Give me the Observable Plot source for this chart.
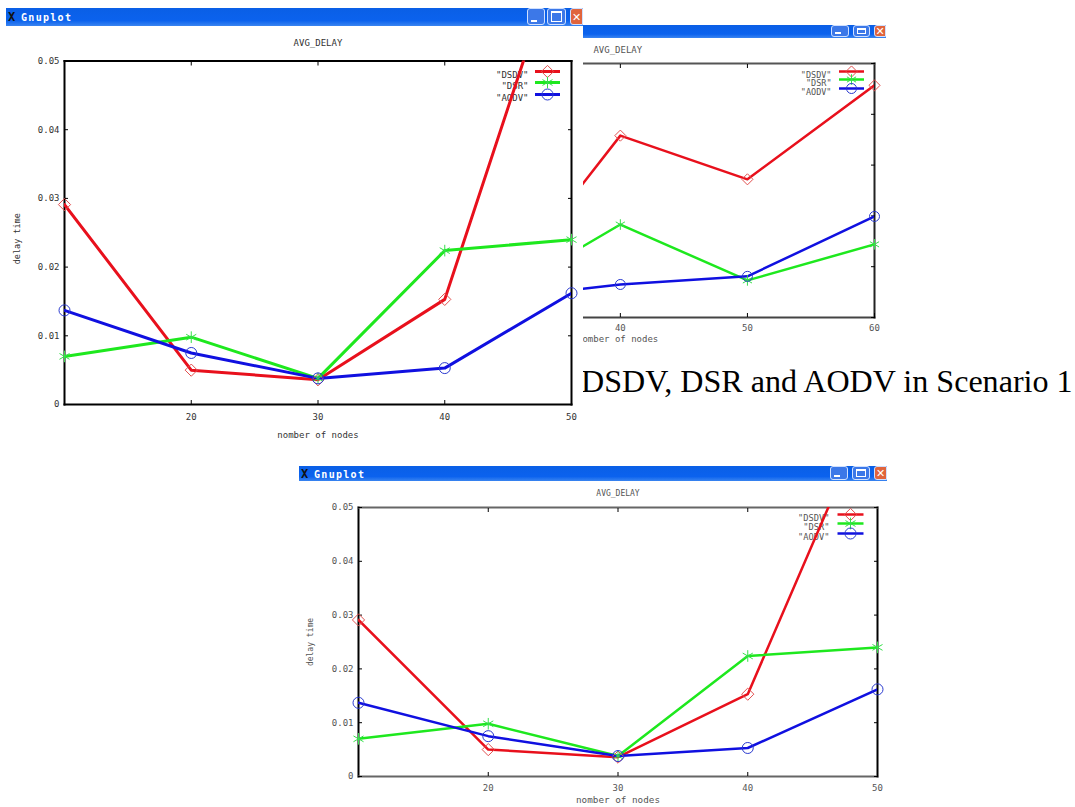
<!DOCTYPE html>
<html><head><meta charset="utf-8">
<script src="https://cdn.jsdelivr.net/npm/d3@7"></script>
<script src="https://cdn.jsdelivr.net/npm/@observablehq/plot@0.6"></script>
<style>
html,body{margin:0;padding:0;background:#fff;}
#page{position:relative;width:1075px;height:807px;overflow:hidden;}
.bar{position:absolute;background:linear-gradient(#0a5fe6 0%,#0b62ee 70%,#3a84f0 100%);color:#fff;font:bold 10px "DejaVu Sans Mono",monospace;overflow:hidden;}
.bar .t{position:absolute;left:15px;top:50%;transform:translateY(-50%);letter-spacing:1.3px;white-space:nowrap;}
.bar .x{position:absolute;left:2px;top:50%;transform:translateY(-50%);color:#111;font-size:12px;}
.bar .b{position:absolute;top:0;bottom:1px;border:1px solid #cfe0ff;border-radius:3px;box-sizing:border-box;background:#3c78e8;}
.bar .c{background:#e0643c;border-radius:3px 0 0 3px;}
.bar .b i{position:absolute;display:block;box-sizing:border-box;}
.bar .b .min{left:3px;right:7px;bottom:2px;height:2px;background:#fff;}
.bar .b .max{left:3px;right:3px;top:2px;bottom:2px;border:1px solid #fff;border-top-width:2px;}
.bar .b .cl{left:0;right:0;top:50%;transform:translateY(-50%);font:bold 11px "DejaVu Sans",sans-serif;text-align:center;color:#fff;font-style:normal;}
#cap{position:absolute;left:581px;top:363px;font:32.1px "Liberation Serif",serif;color:#000;white-space:nowrap;}
svg{display:block;position:absolute;}
</style></head><body><div id="page">
<div id="cap">DSDV, DSR and AODV in Scenario 1</div>
</div>
<script>
// Panels 1 and 3 values
const nodesA = [10, 20, 30, 40, 50];
const dsdvA = [0.0291, 0.0050, 0.0036, 0.0153, 0.0712];
const dsrA  = [0.0070, 0.0098, 0.0038, 0.0224, 0.0240];
const aodvA = [0.0137, 0.0075, 0.0038, 0.0053, 0.0162];
// Panel 2 values
const nodesB = [30, 40, 50, 60];
const dsdvB = [0.0037, 0.0358, 0.0272, 0.0457];
const dsrB  = [0.0037, 0.0183, 0.0073, 0.0144];
const aodvB = [0.0037, 0.0065, 0.0081, 0.0199];

const yTicks = [0, 0.01, 0.02, 0.03, 0.04, 0.05];
const xTicksA = [20, 30, 40, 50];
const xTicksB = [40, 50, 60];
const seriesNames = ['"DSDV"', '"DSR"', '"AODV"'];
const seriesColors = ["#e8101c", "#1ee81e", "#1010e0"];
const markerColors = ["#e2504f", "#35e04a", "#2a3ad0"];
const symbols = ["diamond2", "asterisk", "circle"];

const dash = {draw(ctx, size){const r = Math.sqrt(size/Math.PI); ctx.moveTo(-r,0); ctx.lineTo(r,0);}};
const table = (xs, vals) => vals.map((v,i) => ({x: xs[i], y: v}));
const mono = '"DejaVu Sans Mono",monospace';

function panel(o){
  const rows = o.series.map(vals => table(o.nodes, vals));
  const marks = [];
  for (const [anchor,color] of Object.entries(o.sides))
    marks.push(Plot.frame({anchor, stroke: color, strokeWidth: o.frameWidth}));
  marks.push(Plot.axisX(o.xTicks, {anchor:"bottom", tickSize:-4, tickPadding:o.xPad, fontSize:o.fs, fill:o.ink, stroke:"#000", label:null}));
  marks.push(Plot.axisX(o.xTicks.filter(t => t < o.xDomain[1]), {anchor:"top", tickSize:-4, tickFormat:() => "", stroke:"#000", label:null}));
  marks.push(Plot.axisY(yTicks, {anchor:"right", tickSize:-4, tickFormat:() => "", stroke:"#000", label:null}));
  if (o.yLabels) marks.push(Plot.axisY(yTicks, {anchor:"left", tickSize:-4, tickPadding:9, fontSize:o.fs, fill:o.ink, stroke:"#000", label:null,
      tickFormat: d => d === 0 ? "0" : d3.format(".2f")(d)}));
  seriesNames.forEach((name,i) => {
    marks.push(Plot.text([name], {frameAnchor:"top-right", dx:o.legendText, dy:o.legendDy[i], text:d=>d, textAnchor:"end", fontSize:o.legendFs, fill:o.ink}));
  });
  rows.forEach((data,i) => {
    marks.push(Plot.line(data, {x:"x", y:"y", stroke:seriesColors[i], strokeWidth:o.lineWidth, clip:"frame"}));
  });
  rows.forEach((data,i) => {
    const vis = data.filter(d => d.y <= 0.05 && d.x >= o.xDomain[0]);
    marks.push(Plot.dot(vis, {x:"x", y:"y", symbol:symbols[i], r:o.markR, stroke:markerColors[i], strokeWidth:1, fill:"none"}));
    marks.push(Plot.dot([seriesNames[i]], {frameAnchor:"top-right", dx:o.legendX, dy:o.legendDy[i], symbol:dash, r:o.sampleR, stroke:seriesColors[i], strokeWidth:o.lineWidth}));
    marks.push(Plot.dot([seriesNames[i]], {frameAnchor:"top-right", dx:o.legendX, dy:o.legendDy[i], symbol:symbols[i], r:o.markR, stroke:markerColors[i], strokeWidth:1, fill:"none"}));
  });
  marks.push(Plot.text(["AVG_DELAY"], {x:()=>o.titleX, frameAnchor:"top", dy:o.titleDy, text:d=>d, fontSize:o.titleFs, fill:o.ink}));
  marks.push(Plot.text([o.xName], {x:()=>o.xNameX, frameAnchor:"bottom", dy:o.xNameDy, text:d=>d, fontSize:o.nameFs, fill:o.ink}));
  if (o.yName) marks.push(Plot.text([o.yName], {frameAnchor:"left", dx:o.yNameDx, dy:o.yNameDy, textAnchor:"middle", text:d=>d, rotate:-90, fontSize:o.yNameFs, fill:o.ink}));

  const svg = Plot.plot({
    width:o.w, height:o.h, marginLeft:o.m[0], marginRight:o.m[1], marginTop:o.m[2], marginBottom:o.m[3],
    style:{fontFamily:mono, background:"#fff", overflow:"hidden"},
    x:{domain:o.xDomain, axis:null},
    y:{domain:[0,0.05], axis:null},
    marks
  });
  svg.style.left = o.l+"px"; svg.style.top = o.t+"px"; svg.style.position = "absolute";
  document.getElementById("page").appendChild(svg);
}

function bar(l,t,w,h,label,bs){
  const d = document.createElement("div"); d.className="bar";
  d.style.cssText = `left:${l}px;top:${t}px;width:${w}px;height:${h}px`;
  if (label) d.innerHTML = `<span class="x">X</span><span class="t">${label}</span>`;
  bs.forEach(([x,bw,kind]) => {
    const b = document.createElement("div"); b.className = "b"+(kind==="cl"?" c":"");
    b.style.left=x+"px"; b.style.width=bw+"px";
    b.innerHTML = kind==="cl" ? '<i class="cl">✕</i>' : `<i class="${kind}"></i>`;
    d.appendChild(b);
  });
  document.getElementById("page").appendChild(d);
}

panel({l:6,t:26,w:577,h:416,m:[58,12,34.5,38],nodes:nodesA,series:[dsdvA,dsrA,aodvA],xDomain:[10,50],xTicks:xTicksA,
  sides:{left:"#000",right:"#000",top:"#000",bottom:"#000"},frameWidth:2,lineWidth:3,markR:5.5,sampleR:12.5,fs:9,titleFs:9,nameFs:9,yNameFs:8.5,legendFs:9,ink:"#333",xPad:13,yLabels:true,
  legendText:-43,legendX:-24,legendDy:[10.5,21.5,33.5],titleX:30,titleDy:-21,xName:"nomber of nodes",xNameX:30,xNameDy:33,yName:"delay time",yNameDx:-47,yNameDy:6});
panel({l:583,t:38,w:303,h:307,m:[0,12,25,28],nodes:nodesB,series:[dsdvB,dsrB,aodvB],xDomain:[37.1,60],xTicks:xTicksB,
  sides:{right:"#222",top:"#555",bottom:"#444"},frameWidth:2,lineWidth:2.5,markR:5,sampleR:12.5,fs:9,titleFs:9,nameFs:9,legendFs:8.5,ink:"#555",xPad:11,yLabels:false,
  legendText:-43,legendX:-23,legendDy:[8,16,25],titleX:39.8,titleDy:-17,xName:"omber of nodes",xNameX:40,xNameDy:24});
panel({l:299,t:481,w:588,h:326,m:[59,10,26,31],nodes:nodesA,series:[dsdvA,dsrA,aodvA],xDomain:[10,50],xTicks:xTicksA,
  sides:{left:"#000",right:"#000",top:"#666",bottom:"#666"},frameWidth:2,lineWidth:2.5,markR:5.5,sampleR:13,fs:9,titleFs:8,nameFs:9.3,yNameFs:8,legendFs:8.7,ink:"#555",xPad:12,yLabels:true,
  legendText:-48,legendX:-27,legendDy:[7,16,26],titleX:30,titleDy:-17,xName:"nomber of nodes",xNameX:30,xNameDy:26,yName:"delay time",yNameDx:-48,yNameDy:0});

bar(6,8,577,18,"Gnuplot",[[521,18,"min"],[541,19,"max"],[564,13,"cl"]]);
bar(583,25,303,13,"",[[248,18,"min"],[270,17,"max"],[291,12,"cl"]]);
bar(299,466,588,15,"Gnuplot",[[531,18,"min"],[553,18,"max"],[575,13,"cl"]]);
</script></body></html>
